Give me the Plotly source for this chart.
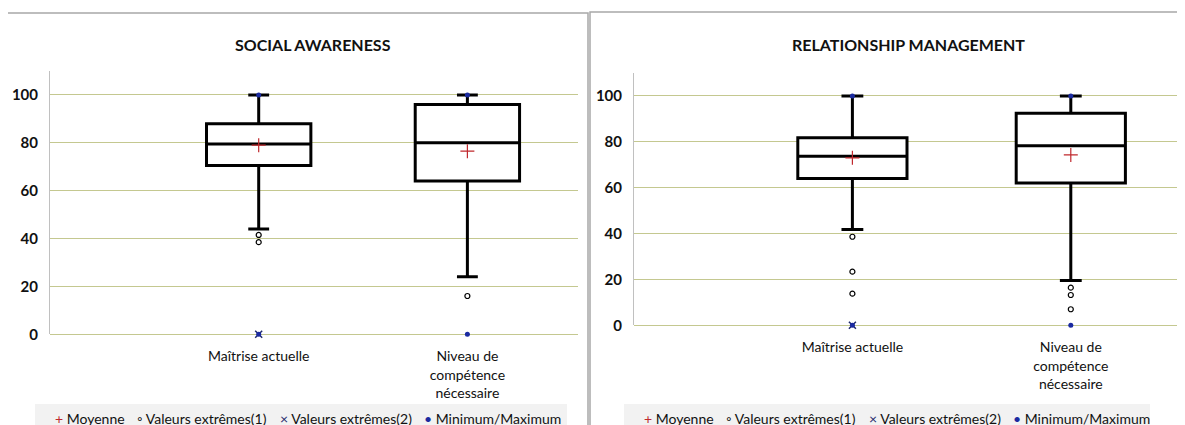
import plotly.graph_objects as go

# categories
cats = ["Maîtrise actuelle", "Niveau de<br>compétence<br>nécessaire"]
cat_pos = [1, 2]

# SOCIAL AWARENESS
sa_q1 = [70.5, 64]
sa_med = [79.5, 80]
sa_q3 = [88, 96]
sa_low = [44, 24]
sa_high = [100, 100]
sa_mean = [79, 76.5]
sa_out1_x = [1, 1, 2]
sa_out1_y = [41.5, 38.5, 16]
sa_out2_x = [1]
sa_out2_y = [0]
sa_mm_x = [1, 1, 2, 2]
sa_mm_y = [0, 100, 0, 100]

# RELATIONSHIP MANAGEMENT
rm_q1 = [64, 62]
rm_med = [73.7, 78.3]
rm_q3 = [81.8, 92.5]
rm_low = [41.8, 19.5]
rm_high = [100, 100]
rm_mean = [73, 74.3]
rm_out1_x = [1, 1, 1, 2, 2, 2]
rm_out1_y = [38.6, 23.4, 13.8, 16.4, 13.2, 7]
rm_out2_x = [1]
rm_out2_y = [0]
rm_mm_x = [1, 1, 2, 2]
rm_mm_y = [0, 100, 0, 100]

# legend entries (symbol, colour, label)
leg_items = [("+", "#c0282d", "Moyenne"),
             ("◦", "#111111", "Valeurs extrêmes(1)"),
             ("×", "#1f2a6b", "Valeurs extrêmes(2)"),
             ("•", "#1a2aa0", "Minimum/Maximum")]

FONT = "Lato, sans-serif"
W, H = 1185, 425
PAD = 8  # page body margin around the plot div


def px(x):
    return (x - PAD) / W


def py(y):
    return (H - (y - PAD)) / H


fig = go.Figure()


def add_panel(xa, ya, q1, med, q3, low, high, mean, o1x, o1y, o2x, o2y, mmx, mmy):
    fig.add_trace(go.Box(
        x=cat_pos, q1=q1, median=med, q3=q3, lowerfence=low, upperfence=high,
        width=0.5, whiskerwidth=0.2, fillcolor="white",
        line=dict(color="black", width=3), boxpoints=False,
        xaxis=xa, yaxis=ya, hoverinfo="skip"))
    fig.add_trace(go.Scatter(
        x=cat_pos, y=mean, mode="markers", name="Moyenne",
        marker=dict(symbol="cross-thin", size=10, line=dict(color="#c0282d", width=1.2)),
        xaxis=xa, yaxis=ya, cliponaxis=False))
    fig.add_trace(go.Scatter(
        x=o1x, y=o1y, mode="markers", name="Valeurs extrêmes(1)",
        marker=dict(symbol="circle-open", size=5, color="black", line=dict(width=1.2)),
        xaxis=xa, yaxis=ya, cliponaxis=False))
    fig.add_trace(go.Scatter(
        x=o2x, y=o2y, mode="markers", name="Valeurs extrêmes(2)",
        marker=dict(symbol="x-thin", size=7, line=dict(color="#1f2a6b", width=1.5)),
        xaxis=xa, yaxis=ya, cliponaxis=False))
    fig.add_trace(go.Scatter(
        x=mmx, y=mmy, mode="markers", name="Minimum/Maximum",
        marker=dict(symbol="circle", size=5, color="#1a2aa0"),
        xaxis=xa, yaxis=ya, cliponaxis=False))


add_panel("x", "y", sa_q1, sa_med, sa_q3, sa_low, sa_high, sa_mean,
          sa_out1_x, sa_out1_y, sa_out2_x, sa_out2_y, sa_mm_x, sa_mm_y)
add_panel("x2", "y2", rm_q1, rm_med, rm_q3, rm_low, rm_high, rm_mean,
          rm_out1_x, rm_out1_y, rm_out2_x, rm_out2_y, rm_mm_x, rm_mm_y)

xcommon = dict(tickvals=cat_pos, ticktext=cats, showgrid=False, zeroline=False,
               showline=False, ticks="", ticklabelstandoff=12,
               tickfont=dict(family=FONT, size=14, color="#111"))
ycommon = dict(range=[0, 110], tickvals=[0, 20, 40, 60, 80, 100], showgrid=True,
               gridcolor="#c4c890", gridwidth=1, zeroline=True, zerolinecolor="#c4c890",
               zerolinewidth=1, showline=True, linecolor="#c0c0c0", linewidth=1, ticks="",
               ticklabelstandoff=8,
               tickfont=dict(family=FONT, size=15, color="#111", weight="bold"))

shapes = [
    dict(type="rect", xref="paper", yref="paper", x0=px(6), x1=px(588),
         y0=-0.1, y1=py(13), line=dict(color="#a8a8a8", width=1.5)),
    dict(type="rect", xref="paper", yref="paper", x0=px(590), x1=1.1,
         y0=-0.1, y1=py(12), line=dict(color="#a8a8a8", width=1.5)),
]
annotations = [
    dict(text="SOCIAL AWARENESS", x=px(313), y=py(44), xref="paper", yref="paper",
         xanchor="center", yanchor="middle", showarrow=False,
         font=dict(family=FONT, size=16, color="#111", weight="bold")),
    dict(text="RELATIONSHIP MANAGEMENT", x=px(908), y=py(44), xref="paper",
         yref="paper", xanchor="center", yanchor="middle", showarrow=False,
         font=dict(family=FONT, size=16, color="#111", weight="bold")),
]

# legend strips under each panel
leg_offsets = [18, 100, 243, 387]
for box_l, box_r in [(35, 567), (624, 1150)]:
    shapes.append(dict(type="rect", xref="paper", yref="paper", x0=px(box_l), x1=px(box_r),
                       y0=-0.1, y1=py(404), fillcolor="#f2f2f2",
                       line=dict(width=0), layer="below"))
    for off, (sym, col, lab) in zip(leg_offsets, leg_items):
        annotations.append(dict(
            text=f'<span style="color:{col}">{sym}</span> {lab}',
            x=px(box_l + off), y=py(418), xref="paper", yref="paper",
            xanchor="left", yanchor="middle", showarrow=False,
            font=dict(family=FONT, size=14, color="#111")))

fig.update_layout(
    width=W, height=H, margin=dict(l=0, r=0, t=0, b=0, autoexpand=False),
    paper_bgcolor="white", plot_bgcolor="white", showlegend=False,
    xaxis=dict(domain=[px(50), px(578)], range=[0, 2.53], anchor="y", **xcommon),
    yaxis=dict(domain=[py(334.3), py(71)], anchor="x", **ycommon),
    xaxis2=dict(domain=[px(634), px(1180)], range=[0, 2.5], anchor="y2", **xcommon),
    yaxis2=dict(domain=[py(325.3), py(73)], anchor="x2", **ycommon),
    shapes=shapes,
    annotations=annotations,
)

fig.write_html("out.html")
